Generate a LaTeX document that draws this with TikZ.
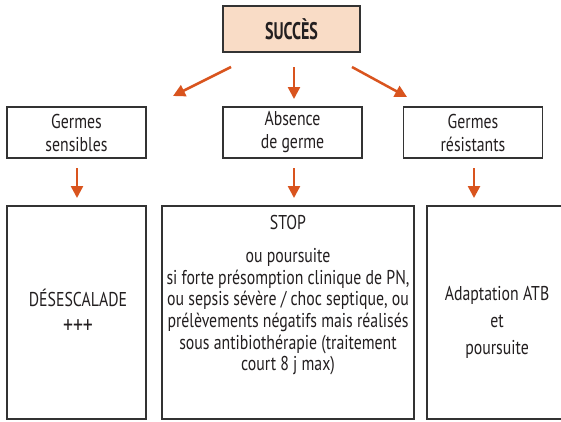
\documentclass[tikz,border=0pt]{standalone}
\usepackage{fontspec}
\setmainfont{PT Sans}[FakeStretch=0.79]
\newfontfamily\titlefont{PT Sans}[FakeStretch=0.67]
\usetikzlibrary{arrows.meta,positioning}
\definecolor{arrorange}{HTML}{D9541E}
\definecolor{peach}{HTML}{F9DCC6}
\definecolor{boxline}{HTML}{333333}
\definecolor{ink}{HTML}{231F20}
\tikzset{
  box/.style={draw=boxline, line width=1.3pt, align=center, inner sep=0pt,
    text=ink, font=\fontsize{20}{23}\selectfont},
  midbox/.style={box, minimum width=139pt, minimum height=51pt},
  bigbox/.style={box, minimum height=213pt},
  txt/.style={align=center, inner sep=0pt, text=ink, font=\fontsize{20}{21.7}\selectfont},
  arr/.style={draw=arrorange, line width=2.5pt, -{Triangle[length=12pt,width=12pt]}},
}
\begin{document}
\begin{tikzpicture}[x=1pt,y=-1pt]
    \clip (0,0) rectangle (561,421);
    \fill[white] (0,0) rectangle (561,421);

    % Top
    \node[box, fill=peach, minimum width=137pt, minimum height=46pt,
      font=\titlefont\bfseries\fontsize{24}{24}\selectfont] (succes) at (291.5,29) {SUCCÈS};

    % Middle row
    \node[midbox] (sens) at (76.5,132.5) {Germes\\sensibles};
    \node[midbox] (absence) at (292.5,132.5) {Absence\\de germe};
    \node[midbox] (resist) at (473,132.5) {Germes\\résistants};

    % Bottom row
    \node[bigbox, minimum width=139pt] (desc) at (76.5,312.5) {};
    \node[txt, anchor=north, font=\fontsize{20}{27}\selectfont] (desctxt) at (78,289)
      {DÉSESCALADE\\{\fontsize{25}{25}\selectfont +++}};
    \node[bigbox, minimum width=252pt] (stop) at (288,312.5) {};
    \node[txt, below=9.5pt of stop.north] (stoptxt) {STOP\\[11.3pt]
      ou poursuite\\
      si forte présomption clinique de PN,\\
      ou sepsis sévère / choc septique, ou\\
      prélèvements négatifs mais réalisés\\
      sous antibiothérapie (traitement\\
      court 8 j max)};
    \node[bigbox, minimum width=140pt] (adapt) at (497,312.5) {};
    \node[txt, anchor=north, font=\fontsize{20}{27}\selectfont] (adapttxt) at (497,286)
      {Adaptation ATB\\et\\poursuite};

    % Arrow ends
    \coordinate (s1) at (231,67);  \coordinate (e1) at (173,96);
    \coordinate (s2) at (294,67);  \coordinate (e2) at (294,99);
    \coordinate (s3) at (352,67);  \coordinate (e3) at (407,97);
    \coordinate (s4) at (77,168);  \coordinate (e4) at (77,198);
    \coordinate (s5) at (294,168); \coordinate (e5) at (294,198);
    \coordinate (s6) at (474,168); \coordinate (e6) at (474,198);
    \foreach \i in {1,...,6} {
        \draw[arr] (s\i) -- (e\i);
    }
\end{tikzpicture}
\end{document}
